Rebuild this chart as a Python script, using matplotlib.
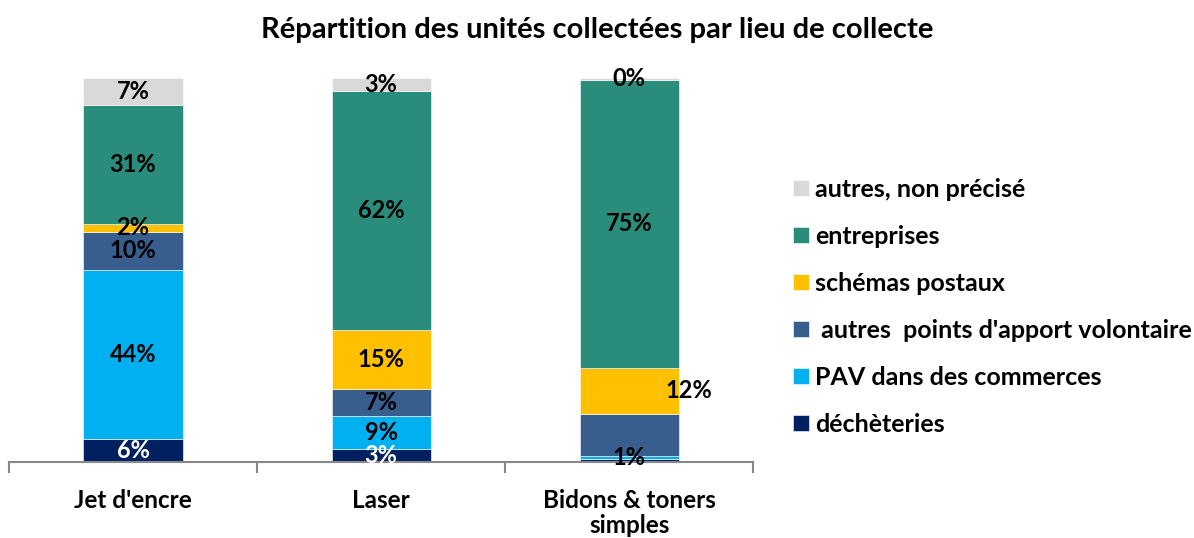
import matplotlib
matplotlib.use("Agg")
import matplotlib.pyplot as plt
import numpy as np

plt.rcParams['font.family'] = ['Lato', 'DejaVu Sans']
plt.rcParams['font.weight'] = 'bold'

#### Data
categories = ["Jet d'encre", "Laser", "Bidons & toners\nsimples"]
series = ["déchèteries", "PAV dans des commerces", " autres  points d'apport volontaire",
          "schémas postaux", "entreprises", "autres, non précisé"]
colors = ["#002060", "#00B0F0", "#385E8E", "#FFC000", "#2A8C7B", "#D9D9D9"]
label_colors = ["white", "black", "black", "black", "black", "black"]

dechets = [6.0, 3.4, 0.9]
pav = [44.0, 8.6, 0.7]
autres_pav = [10.0, 7.0, 11.0]
postaux = [2.0, 15.4, 12.0]
entreprises = [31.0, 62.2, 75.0]
autres = [7.0, 3.4, 0.4]
values = [dechets, pav, autres_pav, postaux, entreprises, autres]

# which labels are shown (Excel hid a few)
show = [[True, True, False], [True, True, True], [True, True, False],
        [True, True, True], [True, True, True], [True, True, True]]

#### Plot
fig = plt.figure(figsize=(11.94, 5.38), dpi=100)
ax = fig.add_axes([0.0075, 0.141, 0.6235, 0.714])

x = np.arange(len(categories))
width = 0.4
bottom = np.zeros(len(categories))
for i, vals in enumerate(values):
    ax.bar(x, vals, width, bottom=bottom, color=colors[i], label=series[i],
           edgecolor='white', linewidth=0.4)
    for j, v in enumerate(vals):
        if not show[i][j]:
            continue
        xpos = x[j]
        ypos = bottom[j] + v / 2
        # the 12% label sits on the bar's right edge
        if i == 3 and j == 2:
            xpos = x[j] + width / 2 + 0.04
        ax.text(xpos, ypos, "%.0f%%" % v, ha='center', va='center',
                fontsize=17, fontweight='bold', color=label_colors[i])
    bottom += np.array(vals)

ax.set_xlim(-0.5, 2.5)
ax.set_ylim(0, 100)
ax.set_yticks([])
for s in ['top', 'right', 'left']:
    ax.spines[s].set_visible(False)
ax.spines['bottom'].set_color('#888888')
ax.spines['bottom'].set_linewidth(1.5)

ax.set_xticks(x)
ax.set_xticklabels(categories, fontsize=17.5, fontweight='bold', linespacing=1.15)
ax.tick_params(axis='x', which='major', length=0, pad=19)
ax.set_xticks([-0.5, 0.5, 1.5, 2.5], minor=True)
ax.tick_params(axis='x', which='minor', length=8, width=1.5, color='#888888', direction='out')

fig.text(0.5, 1 - 30 / 538, "Répartition des unités collectées par lieu de collecte",
         fontsize=21, fontweight='bold', ha='center', va='center')

handles, labels = ax.get_legend_handles_labels()
leg = fig.legend(handles[::-1], labels[::-1], loc='upper left',
                 bbox_to_anchor=(793 / 1194, 1 - 178 / 538), frameon=False,
                 prop={'size': 18, 'weight': 'bold'}, handlelength=0.64,
                 handleheight=0.64, handletextpad=0.25, labelspacing=0.96,
                 borderpad=0, borderaxespad=0)

plt.savefig("out.png", dpi=100)
